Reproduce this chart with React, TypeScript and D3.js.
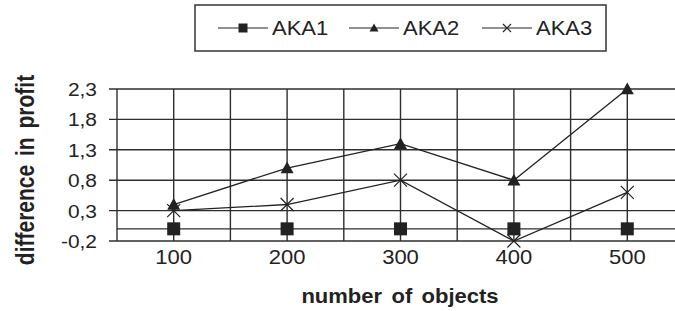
import { scaleBand, scaleLinear, line } from 'd3';

const categories = ['100', '200', '300', '400', '500'];
const seriesNames = ['AKA1', 'AKA2', 'AKA3'];
const aka1 = [0, 0, 0, 0, 0];
const aka2 = [0.4, 1.0, 1.4, 0.8, 2.3];
const aka3 = [0.3, 0.4, 0.8, -0.2, 0.6];
const yTicks = [-0.2, 0.3, 0.8, 1.3, 1.8, 2.3];
const yTickLabels = ['-0,2', '0,3', '0,8', '1,3', '1,8', '2,3'];

const ink = '#222';
const grid = '#2e2e2e';
const font = '"Liberation Sans", Arial, sans-serif';
const sx = 1.1;

function Marker({ kind, x, y, size }: { kind: string; x: number; y: number; size: number }) {
  const h = size / 2;
  if (kind === 'square') {
    return <rect x={x - h} y={y - h} width={size} height={size} fill={ink} />;
  }
  if (kind === 'triangle') {
    return (
      <path
        d={`M${x},${y - h}L${x + h},${y + h * 0.8}L${x - h},${y + h * 0.8}Z`}
        fill={ink}
      />
    );
  }
  return (
    <path
      d={`M${x - h},${y - h}L${x + h},${y + h}M${x - h},${y + h}L${x + h},${y - h}`}
      stroke={ink}
      strokeWidth={1.2}
    />
  );
}

export default function App() {
  const width = 675;
  const height = 311;
  const left = 117;
  const right = 684;
  const top = 89;
  const bottom = 241;

  const x = scaleBand<string>().domain(categories).range([left, right]).padding(0);
  const y = scaleLinear().domain([-0.2, 2.3]).range([bottom, top]);
  const cx = (c: string) => (x(c) || 0) + x.bandwidth() / 2;

  const series = [
    { name: seriesNames[0], values: aka1, marker: 'square', showLine: false },
    { name: seriesNames[1], values: aka2, marker: 'triangle', showLine: true },
    { name: seriesNames[2], values: aka3, marker: 'cross', showLine: true },
  ];

  const path = line<number>()
    .x((_, i) => cx(categories[i]))
    .y((v) => y(v));

  const legendX = [218, 349, 482];

  return (
    <div style={{ position: 'fixed', left: 0, top: 0 }}>
      <svg width={width} height={height} style={{ display: 'block', background: '#fff' }}>
        {/* legend */}
        <rect x={195} y={5} width={411} height={46} fill="none" stroke="#333" strokeWidth={1.5} />
        {series.map((s, i) => (
          <g key={s.name}>
            <line x1={legendX[i]} x2={legendX[i] + 50} y1={28} y2={28} stroke={ink} strokeWidth={1.2} />
            <Marker kind={s.marker} x={legendX[i] + 25} y={28} size={s.marker === 'cross' ? 8 : 9} />
            <text
              transform={`translate(${legendX[i] + 54},35) scale(${sx},1)`}
              fontFamily={font}
              fontSize={20}
              fill={ink}
            >
              {s.name}
            </text>
          </g>
        ))}

        {/* grid */}
        {yTicks.map((t) => (
          <line key={`h${t}`} x1={left - 8} x2={right} y1={y(t)} y2={y(t)} stroke={grid} strokeWidth={1.4} />
        ))}
        <line x1={left} x2={right} y1={y(0)} y2={y(0)} stroke={grid} strokeWidth={1.4} />
        {categories.map((c) => (
          <g key={`v${c}`}>
            <line x1={x(c) || 0} x2={x(c) || 0} y1={top} y2={bottom} stroke={grid} strokeWidth={1.4} />
            <line x1={cx(c)} x2={cx(c)} y1={top} y2={bottom} stroke={grid} strokeWidth={1.4} />
          </g>
        ))}
        <line x1={right} x2={right} y1={top} y2={bottom} stroke={grid} strokeWidth={1.4} />

        {/* y tick labels */}
        {yTicks.map((t, i) => (
          <text
            key={`yl${t}`}
            transform={`translate(97,${y(t) + 7}) scale(${sx},1)`}
            textAnchor="end"
            fontFamily={font}
            fontSize={19}
            fill={ink}
          >
            {yTickLabels[i]}
          </text>
        ))}

        {/* x tick labels */}
        {categories.map((c) => (
          <text
            key={`xl${c}`}
            transform={`translate(${cx(c)},264) scale(${sx},1)`}
            textAnchor="middle"
            fontFamily={font}
            fontSize={20}
            fill={ink}
          >
            {c}
          </text>
        ))}

        {/* series */}
        {series.map((s) => (
          <g key={s.name}>
            {s.showLine && (
              <path d={path(s.values) || ''} fill="none" stroke={ink} strokeWidth={1.3} />
            )}
            {s.values.map((v, i) => (
              <Marker key={i} kind={s.marker} x={cx(categories[i])} y={y(v)} size={13} />
            ))}
          </g>
        ))}

        {/* axis titles */}
        <text
          transform={`translate(400,303) scale(${sx},1)`}
          textAnchor="middle"
          fontFamily={font}
          fontWeight="bold"
          fontSize={20}
          wordSpacing={3}
          fill={ink}
        >
          number of objects
        </text>
        <text
          transform={`translate(34,170) scale(1.2,1) rotate(-90)`}
          textAnchor="middle"
          fontFamily={font}
          fontWeight="bold"
          fontSize={21}
          wordSpacing={3}
          fill={ink}
        >
          difference in profit
        </text>
      </svg>
    </div>
  );
}
